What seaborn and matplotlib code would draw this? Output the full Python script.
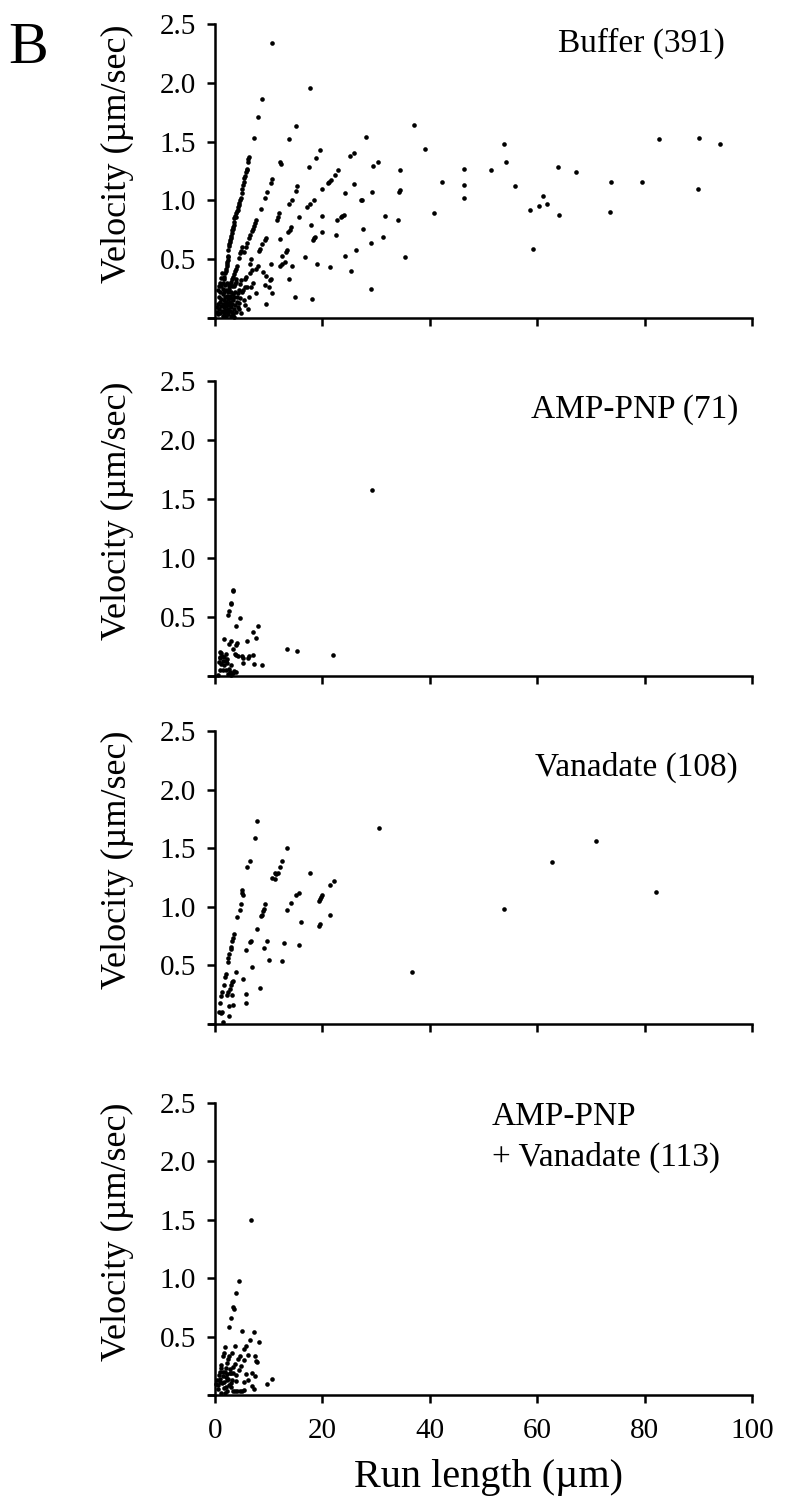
import matplotlib
matplotlib.use('Agg')
import matplotlib.pyplot as plt
import seaborn as sns
import numpy as np
import pandas as pd

# (run length in um, velocity in um/sec)
buffer_pts = [
    (17.6, 1.955), (37.0, 1.64), (28.1, 1.54), (39.1, 1.44), (19.6, 1.43), (18.8, 1.36), (25.1, 1.38),
    (25.8, 1.40), (30.4, 1.33), (29.5, 1.29), (17.5, 1.28), (53.9, 1.48), (54.1, 1.33), (82.6, 1.52),
    (90.2, 1.53), (94.1, 1.48), (22.9, 1.26), (22.3, 1.22), (34.4, 1.26), (46.4, 1.27), (51.3, 1.26),
    (63.9, 1.28), (67.3, 1.24), (21.65, 1.17), (21.2, 1.16), (20.96, 1.15), (25.9, 1.14), (42.3, 1.16),
    (46.4, 1.13), (55.9, 1.12), (73.8, 1.16), (79.6, 1.16), (19.97, 1.10), (24.2, 1.06), (29.2, 1.07),
    (34.3, 1.07), (34.5, 1.09), (89.9, 1.10), (18.4, 1.00), (17.6, 0.97), (17.1, 0.94), (27.1, 1.00),
    (27.4, 1.00), (46.4, 1.02), (61.0, 1.04), (61.8, 0.97), (60.4, 0.95), (58.7, 0.92), (64.1, 0.88),
    (73.5, 0.90), (15.7, 0.86), (40.7, 0.89), (20.0, 0.87), (31.7, 0.87), (22.8, 0.83), (23.4, 0.86),
    (23.7, 0.87), (24.1, 0.88), (34.0, 0.83), (17.9, 0.79), (27.6, 0.76), (19.9, 0.73), (22.6, 0.71),
    (18.2, 0.66), (18.5, 0.68), (18.7, 0.69), (31.2, 0.69), (29.1, 0.64), (26.2, 0.58), (59.2, 0.59),
    (16.8, 0.52), (24.2, 0.53), (35.3, 0.52), (19.0, 0.46), (21.4, 0.43), (25.3, 0.40), (29.0, 0.25),
    (18.0, 0.16),
    (10.53, 2.34), (8.66, 1.86), (8.04, 1.71), (15.0, 1.63), (7.17, 1.53), (13.82, 1.52), (12.14, 1.33),
    (12.27, 1.31), (6.24, 1.37), (6.12, 1.35), (6.18, 1.33), (5.99, 1.27), (5.75, 1.24), (5.56, 1.21),
    (5.43, 1.19), (5.31, 1.16), (10.59, 1.18), (10.34, 1.15), (9.72, 1.07), (9.29, 1.02), (4.81, 1.02),
    (4.63, 1.00), (4.50, 0.98), (15.3, 1.12), (15.06, 1.08), (14.25, 1.00), (13.76, 0.97), (8.54, 0.93),
    (4.07, 0.91), (3.70, 0.87), (3.51, 0.85), (11.9, 0.89), (11.7, 0.86), (11.46, 0.83), (7.67, 0.83),
    (7.48, 0.81), (7.24, 0.78), (3.39, 0.77), (3.2, 0.75), (3.07, 0.72), (14.19, 0.77), (13.9, 0.75),
    (13.57, 0.73), (12.14, 0.67), (9.47, 0.68), (9.35, 0.66), (2.89, 0.68), (2.70, 0.65), (2.58, 0.61),
    (8.66, 0.63), (8.29, 0.59), (8.1, 0.57), (5.06, 0.60), (4.81, 0.57), (4.69, 0.55), (4.44, 0.51),
    (13.38, 0.58), (13.13, 0.56), (12.39, 0.53), (2.45, 0.53), (2.39, 0.49), (2.27, 0.46), (6.61, 0.50),
    (6.49, 0.46), (10.4, 0.46), (12.95, 0.48), (12.45, 0.46), (12.14, 0.44), (14.3, 0.44), (7.98, 0.44),
    (7.67, 0.42), (6.8, 0.41), (6.43, 0.38), (8.85, 0.39), (9.53, 0.36), (5.75, 0.35), (5.56, 0.33),
    (10.2, 0.32), (10.5, 0.33), (4.88, 0.32), (4.69, 0.29), (3.94, 0.33), (3.82, 0.31), (3.63, 0.29),
    (3.51, 0.27), (13.76, 0.33), (9.29, 0.28), (10.1, 0.26), (7.0, 0.30), (6.74, 0.26), (5.93, 0.26),
    (5.5, 0.26), (5.19, 0.24), (5.0, 0.22), (4.38, 0.24), (4.25, 0.21), (7.61, 0.21), (10.65, 0.21),
    (14.81, 0.18), (9.53, 0.12), (6.12, 0.08), (4.38, 0.08),
    (5.87, 1.26), (5.2, 1.13), (5.1, 1.10), (4.95, 1.06), (4.4, 0.96), (4.3, 0.94), (4.2, 0.92),
    (3.95, 0.89), (3.85, 0.86), (3.6, 0.82), (3.45, 0.79), (3.3, 0.76), (2.95, 0.70), (2.8, 0.66),
    (2.65, 0.63), (2.5, 0.58), (2.33, 0.52), (2.2, 0.48), (2.15, 0.44), (2.05, 0.42), (1.95, 0.40),
    (1.85, 0.38), (1.75, 0.35), (1.6, 0.33), (1.5, 0.30),
    (5.4, 0.56), (5.7, 0.60), (6.0, 0.64), (6.3, 0.68), (6.55, 0.71), (6.9, 0.74), (7.05, 0.76),
    (4.1, 0.44), (3.9, 0.42), (3.7, 0.40), (3.45, 0.37), (3.3, 0.35), (3.1, 0.33), (2.95, 0.31),
    (2.8, 0.29), (2.6, 0.27),
    (0.4, 0.05), (0.5, 0.12), (0.6, 0.03), (0.7, 0.18), (0.8, 0.08), (0.9, 0.14), (1.0, 0.22),
    (1.0, 0.04), (1.1, 0.10), (1.2, 0.16), (1.2, 0.27), (1.3, 0.06), (1.4, 0.12), (1.4, 0.20),
    (1.5, 0.02), (1.5, 0.25), (1.6, 0.09), (1.6, 0.15), (1.7, 0.22), (1.7, 0.04), (1.8, 0.12),
    (1.8, 0.28), (1.9, 0.07), (1.9, 0.18), (2.0, 0.14), (2.0, 0.02), (2.1, 0.24), (2.1, 0.10),
    (2.2, 0.05), (2.2, 0.19), (2.3, 0.13), (2.3, 0.30), (2.4, 0.08), (2.4, 0.22), (2.5, 0.16),
    (2.5, 0.03), (2.6, 0.11), (2.6, 0.25), (2.7, 0.06), (2.7, 0.19), (2.8, 0.14), (2.9, 0.02),
    (2.9, 0.22), (3.0, 0.09), (3.0, 0.17), (3.1, 0.27), (3.1, 0.05), (3.2, 0.12), (3.3, 0.20),
    (3.3, 0.03), (3.4, 0.15), (3.5, 0.08), (3.6, 0.18), (3.6, 0.01), (3.7, 0.11), (3.8, 0.22),
    (3.9, 0.05), (4.0, 0.14), (4.1, 0.18), (4.2, 0.09), (4.5, 0.13), (4.7, 0.17), (4.8, 0.04),
    (5.3, 0.15), (5.6, 0.11), (6.3, 0.18), (0.3, 0.09), (0.6, 0.24), (0.9, 0.30), (1.1, 0.34),
    (1.3, 0.38), (0.8, 0.27),
]

amppnp_pts = [
    (29.2, 1.58), (3.26, 0.72), (3.35, 0.73), (3.0, 0.62), (2.9, 0.61), (2.58, 0.55), (2.45, 0.52),
    (4.69, 0.49), (3.94, 0.42), (7.98, 0.42), (7.05, 0.37), (7.61, 0.32), (5.93, 0.30), (1.58, 0.31),
    (3.0, 0.30), (2.58, 0.27), (4.07, 0.28), (3.82, 0.26), (3.32, 0.23), (13.45, 0.23), (15.25, 0.21),
    (21.95, 0.18), (0.96, 0.20), (1.15, 0.195), (0.84, 0.16), (0.96, 0.15), (1.58, 0.16), (1.96, 0.19),
    (3.76, 0.19), (3.94, 0.175), (4.25, 0.17), (5.06, 0.17), (5.19, 0.15), (6.12, 0.15), (6.3, 0.17),
    (7.05, 0.175), (5.25, 0.11), (7.17, 0.10), (8.79, 0.09), (1.46, 0.13), (1.96, 0.13), (2.2, 0.14),
    (1.15, 0.10), (3.0, 0.09), (2.58, 0.06), (2.08, 0.05), (1.46, 0.05), (0.84, 0.05), (2.83, 0.03),
    (3.32, 0.025), (3.82, 0.034), (0.53, 0.005), (2.39, 0.014), (3.0, 0.005), (1.7, 0.09), (2.3, 0.11),
    (1.3, 0.17), (2.7, 0.02), (3.5, 0.04), (0.7, 0.12),
]

vanadate_pts = [
    (7.8, 1.73), (7.42, 1.59), (6.43, 1.39), (5.99, 1.34), (13.45, 1.50), (12.5, 1.39), (12.08, 1.34),
    (11.7, 1.29), (11.4, 1.28), (11.2, 1.24), (17.7, 1.29), (22.15, 1.22), (21.4, 1.19), (4.94, 1.14),
    (5.0, 1.12), (5.12, 1.10), (4.81, 1.02), (4.63, 0.97), (4.07, 0.91), (9.35, 1.02), (9.1, 0.98),
    (8.85, 0.96), (8.66, 0.93), (8.48, 0.92), (15.56, 1.12), (15.06, 1.10), (14.07, 1.03), (13.38, 0.97),
    (19.97, 1.10), (19.72, 1.08), (19.47, 1.07), (19.29, 1.05), (15.93, 0.87), (19.6, 0.85), (19.4, 0.84),
    (21.5, 0.93), (7.8, 0.81), (6.61, 0.71), (6.55, 0.70), (9.66, 0.71), (9.04, 0.65), (5.8, 0.63),
    (12.76, 0.69), (15.56, 0.67), (9.97, 0.55), (12.45, 0.54), (6.86, 0.49), (10.7, 1.25), (11.2, 1.29),
    (8.4, 0.31), (5.74, 0.26), (5.74, 0.18), (5.19, 0.38), (3.95, 0.44),
    (3.33, 0.73), (3.2, 0.71), (3.0, 0.66), (2.9, 0.64), (2.65, 0.60), (2.5, 0.56), (2.35, 0.53),
    (1.98, 0.43), (1.85, 0.40), (1.6, 0.33), (1.23, 0.27), (1.1, 0.24), (0.86, 0.18), (0.74, 0.10),
    (1.05, 0.09), (1.36, 0.105), (1.48, 0.014), (2.6, 0.07), (2.6, 0.15), (3.4, 0.16), (2.28, 0.25),
    (2.47, 0.27), (2.72, 0.30), (2.96, 0.33), (3.2, 0.36), (3.33, 0.37), (3.2, 0.25), (3.45, 0.77),
    (30.5, 1.67), (62.7, 1.38), (70.9, 1.56), (82.1, 1.13), (53.8, 0.98), (36.7, 0.44),
]

amppnp_van_pts = [
    (6.75, 1.50), (4.4, 0.98), (3.9, 0.87), (3.4, 0.755), (3.47, 0.74), (2.91, 0.66), (2.54, 0.58),
    (4.95, 0.55), (7.3, 0.54), (6.5, 0.47), (8.1, 0.45), (5.82, 0.42), (5.45, 0.39), (3.78, 0.42),
    (1.8, 0.41), (1.6, 0.36), (1.49, 0.33), (3.22, 0.36), (2.6, 0.33), (2.41, 0.305), (2.29, 0.27),
    (4.58, 0.33), (4.27, 0.305), (6.19, 0.34), (5.33, 0.30), (7.37, 0.33), (7.68, 0.29), (7.86, 0.28),
    (3.65, 0.265), (3.4, 0.24), (1.18, 0.26), (1.05, 0.23), (0.87, 0.20), (1.98, 0.23), (1.8, 0.20),
    (2.72, 0.185), (3.03, 0.19), (3.4, 0.185), (3.84, 0.17), (5.7, 0.18), (6.87, 0.185), (7.37, 0.165),
    (10.6, 0.14), (9.66, 0.09), (6.87, 0.08), (7.18, 0.05), (6.13, 0.13), (5.39, 0.11), (3.96, 0.12),
    (0.43, 0.13), (0.19, 0.09), (0.56, 0.085), (0.87, 0.11), (1.3, 0.10), (1.49, 0.16), (2.1, 0.15),
    (2.29, 0.13), (2.54, 0.085), (2.91, 0.07), (3.34, 0.03), (3.65, 0.03), (4.15, 0.03), (4.58, 0.034),
    (5.0, 0.037), (5.39, 0.043), (1.18, 0.014), (1.8, 0.014), (2.29, 0.03), (0.7, 0.17), (1.0, 0.14),
    (1.4, 0.20), (1.7, 0.11), (2.0, 0.07), (2.2, 0.18), (2.5, 0.14), (2.8, 0.22), (3.1, 0.13),
    (0.5, 0.05), (1.6, 0.06), (4.4, 0.21), (4.9, 0.25), (3.0, 0.10),
]

panel_data = [buffer_pts, amppnp_pts, vanadate_pts, amppnp_van_pts]
x_ticks = [0, 20, 40, 60, 80, 100]
y_ticks = [0, 0.5, 1.0, 1.5, 2.0, 2.5]
y_ticklabels = ['', '0.5', '1.0', '1.5', '2.0', '2.5']

sns.set_style('ticks')
plt.rcParams['font.family'] = ['Liberation Serif', 'DejaVu Serif']
plt.rcParams['text.color'] = 'black'
plt.rcParams['axes.labelcolor'] = 'black'

W, H = 800, 1504
fig = plt.figure(figsize=(W / 100, H / 100), dpi=100)

# axes rows in pixels (top of y=2.5, bottom y=0)
rows = [(24, 318), (381, 676), (731, 1024), (1103, 1395)]
ax_left = 208.6 / W
ax_width = (752 - 208.6) / W

for i, (pts, (top, bot)) in enumerate(zip(panel_data, rows)):
    ax = fig.add_axes([ax_left, 1 - bot / H, ax_width, (bot - top) / H])
    df = pd.DataFrame(pts, columns=['run', 'vel'])
    sns.scatterplot(data=df, x='run', y='vel', ax=ax, color='black', s=11,
                    linewidth=0, clip_on=False)
    ax.set_xlim(-1.2, 100)
    ax.set_ylim(0, 2.5)
    sns.despine(ax=ax)
    ax.spines['left'].set_position(('data', 0))
    for sp in ['left', 'bottom']:
        ax.spines[sp].set_linewidth(1.8)
        ax.spines[sp].set_color('black')
    ax.set_xticks(x_ticks)
    ax.set_yticks(y_ticks)
    ax.set_yticklabels(y_ticklabels)
    ax.tick_params(direction='out', length=5.5, width=1.8, labelsize=21, colors='black')
    ax.tick_params(axis='y', pad=8)
    ax.tick_params(axis='x', pad=11)
    if i < 3:
        ax.set_xticklabels([])
    ax.set_xlabel('')
    ax.set_ylabel('')
    fig.text(117 / W, 1 - (bot - 0.56 * (bot - top)) / H, 'Velocity (µm/sec)',
             rotation=90, ha='center', va='center', fontsize=26)

fig.text(725 / W, 1 - 52 / H, 'Buffer (391)', ha='right', va='baseline', fontsize=24)
fig.text(738 / W, 1 - 418 / H, 'AMP-PNP (71)', ha='right', va='baseline', fontsize=24)
fig.text(738 / W, 1 - 776 / H, 'Vanadate (108)', ha='right', va='baseline', fontsize=24)
fig.text(492 / W, 1 - 1125 / H, 'AMP-PNP', ha='left', va='baseline', fontsize=24)
fig.text(492 / W, 1 - 1166 / H, '+ Vanadate (113)', ha='left', va='baseline', fontsize=24)

fig.text(488 / W, 1 - 1487 / H, 'Run length (µm)', ha='center', va='baseline', fontsize=29)
fig.text(8 / W, 1 - 63 / H, 'B', ha='left', va='baseline', fontsize=43)

fig.savefig('out.png', dpi=100)
